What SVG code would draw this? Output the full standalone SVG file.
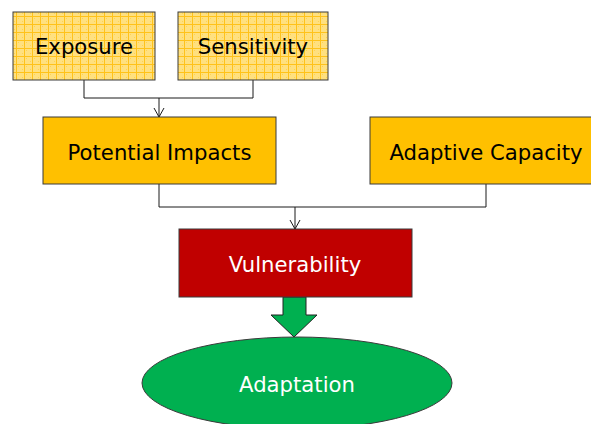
<svg xmlns="http://www.w3.org/2000/svg" width="591" height="424" viewBox="0 0 591 424">
<style>
.box{stroke:#3a3a3a;stroke-width:1}
.t{font-family:"DejaVu Sans","Liberation Sans",sans-serif;font-size:21.2px;text-anchor:middle}
.conn{fill:none;stroke:#1a1a1a;stroke-width:1}
</style>
<defs>
<pattern id="grid" width="8" height="8" patternUnits="userSpaceOnUse">
<rect width="8" height="8" fill="#FFE07F"/>
<rect x="2" y="2" width="1" height="1" fill="#FFD34F"/>
<rect x="6" y="5" width="1" height="1" fill="#FFD34F"/>
<path d="M0 0.5H8M0.5 0V8" stroke="#FFC21A" stroke-width="1"/>
</pattern>
<marker id="arr" markerWidth="12" markerHeight="12" refX="10" refY="6" orient="auto" markerUnits="userSpaceOnUse" viewBox="0 0 12 12">
<path d="M1 1L10 6L1 11" fill="none" stroke="#1a1a1a" stroke-width="1"/>
</marker>
</defs>
<g id="connectors">
<path class="conn" d="M84 80V98H253V80"/>
<path class="conn" d="M159 98V117" marker-end="url(#arr)"/>
<path class="conn" d="M159 184V207H486V184"/>
<path class="conn" d="M295 207V229" marker-end="url(#arr)"/>
<path d="M283 297H306V315H317L294 337L271 315H283Z" fill="#00B050" stroke="#222" stroke-width="1"/>
</g>
<g id="exposure">
<rect class="box" x="13" y="12" width="142" height="68" fill="url(#grid)"/>
<text class="t" x="84" y="54" fill="#000">Exposure</text>
</g>
<g id="sensitivity">
<rect class="box" x="178" y="12" width="150" height="68" fill="url(#grid)"/>
<text class="t" x="253" y="54" fill="#000">Sensitivity</text>
</g>
<g id="potential-impacts">
<rect class="box" x="43" y="117" width="233" height="67" fill="#FFC000"/>
<text class="t" x="159.5" y="160" fill="#000">Potential Impacts</text>
</g>
<g id="adaptive-capacity">
<rect class="box" x="370" y="117" width="232" height="67" fill="#FFC000"/>
<text class="t" x="486" y="160" fill="#000">Adaptive Capacity</text>
</g>
<g id="vulnerability">
<rect class="box" x="179" y="229" width="233" height="68" fill="#C00000"/>
<text class="t" x="295" y="272" fill="#fff">Vulnerability</text>
</g>
<g id="adaptation">
<ellipse class="box" cx="297" cy="383" rx="155" ry="46" fill="#00B050"/>
<text class="t" x="297" y="392" fill="#fff">Adaptation</text>
</g>
</svg>
